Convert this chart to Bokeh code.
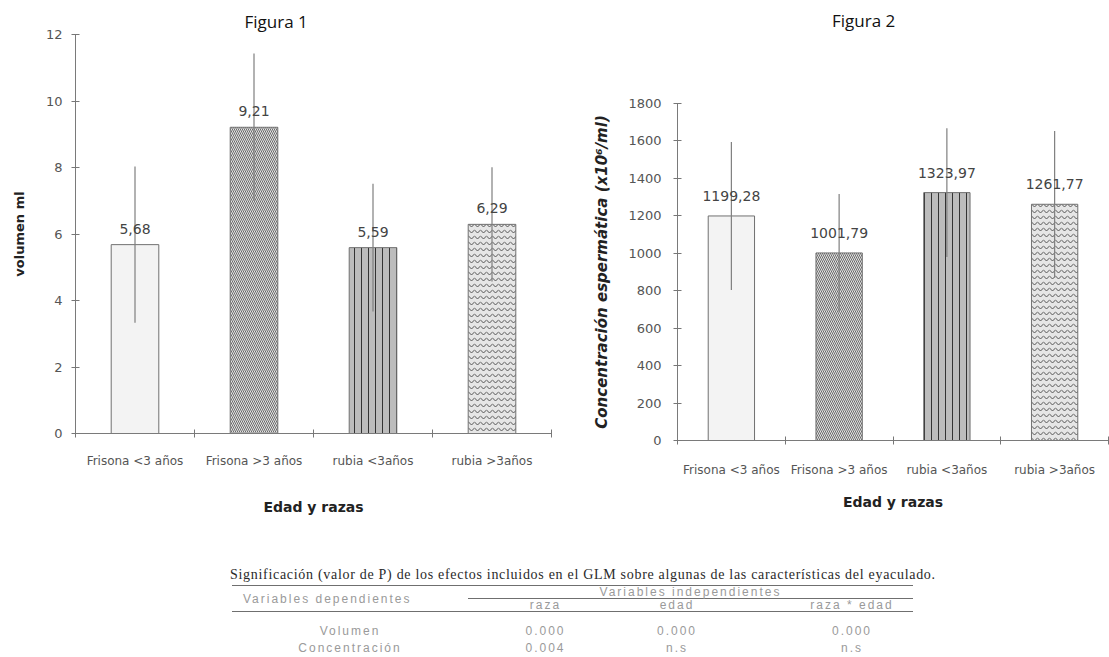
from bokeh.plotting import figure
from bokeh.models import Range1d, FixedTicker, ColumnDataSource, Div
from bokeh.layouts import column, row
from bokeh.embed import file_html
from bokeh.resources import INLINE
from bokeh.core.properties import value

# ---------------- data ----------------
categories = ["Frisona <3 años", "Frisona >3 años", "rubia <3años", "rubia >3años"]

volumen = [5.68, 9.21, 5.59, 6.29]
volumen_err = [2.35, 2.22, 1.92, 1.72]
volumen_labels = ["5,68", "9,21", "5,59", "6,29"]

concentracion = [1199.28, 1001.79, 1323.97, 1261.77]
concentracion_err = [395, 315, 344, 392]
concentracion_labels = ["1199,28", "1001,79", "1323,97", "1261,77"]

y1_ticks = [0, 2, 4, 6, 8, 10, 12]
y2_ticks = [0, 200, 400, 600, 800, 1000, 1200, 1400, 1600, 1800]

table_caption = ("Significación (valor de P) de los efectos incluidos en el GLM sobre "
                 "algunas de las características del eyaculado.")
table_dep_header = "Variables dependientes"
table_ind_header = "Variables independientes"
table_columns = ["raza", "edad", "raza * edad"]
table_rows = ["Volumen", "Concentración"]
table_p_raza = ["0.000", "0.004"]
table_p_edad = ["0.000", "n.s"]
table_p_interaccion = ["0.000", "n.s"]

# ---------------- styles ----------------
bar_fill = ["#f3f3f3", "#e4e4e4", "#bcbcbc", "#e6e6e6"]
bar_hatch = [" ", "left_diagonal_line", "vertical_line", "horizontal_wave"]
bar_hatch_color = ["#999999", "#6a6a6a", "#333333", "#555555"]
bar_hatch_scale = [6, 4, 7, 6]

TICK_FONT = "DejaVu Sans"
GRAY = "#555555"


def make_bar_figure(values, errs, labels, y_max, y_ticks, ylabel, ylabel_style,
                    ylabel_size, title, title_offset, width, height,
                    borders, bar_width, label_offset, tick_size, tick_standoff,
                    ylabel_standoff, xlabel_standoff, xtitle_standoff):
    xs = [i + 0.5 for i in range(len(categories))]
    src = ColumnDataSource(dict(
        x=xs, top=values,
        lower=[v - e for v, e in zip(values, errs)],
        upper=[v + e for v, e in zip(values, errs)],
        label=labels, fill=bar_fill, hatch=bar_hatch,
        hcolor=bar_hatch_color, hscale=bar_hatch_scale,
    ))
    p = figure(width=width, height=height,
               x_range=Range1d(0, len(categories)), y_range=Range1d(0, y_max),
               output_backend="svg", toolbar_location=None,
               min_border_left=borders[0], min_border_right=borders[1],
               min_border_top=borders[2], min_border_bottom=borders[3])
    if title:
        p.title.text = title
        p.title.text_font = "Open Sans"
        p.title.text_font_size = "17px"
        p.title.text_font_style = "normal"
        p.title.text_color = "#111111"
        p.title.align = "left"
        p.title.offset = title_offset
        p.title.standoff = 4
    p.outline_line_color = None
    p.xgrid.visible = False
    p.ygrid.visible = False
    p.background_fill_color = "white"
    p.border_fill_color = "white"

    p.vbar(x="x", top="top", width=bar_width, source=src,
           fill_color="fill", line_color="#707070", line_width=1,
           hatch_pattern="hatch", hatch_color="hcolor", hatch_scale="hscale",
           hatch_weight=1)
    p.segment(x0="x", y0="lower", x1="x", y1="upper", source=src,
              line_color="#7f7f7f", line_width=1.2)
    p.text(x="x", y="top", text="label", source=src,
           text_align="center", text_baseline="middle", y_offset=-label_offset,
           text_font=value(TICK_FONT), text_font_size="14px", text_color="#444444")

    # x axis: labels at centres, tick marks at category boundaries
    xa = p.xaxis[0]
    xa.ticker = FixedTicker(ticks=xs, minor_ticks=list(range(len(categories) + 1)))
    xa.major_label_overrides = dict(zip(xs, categories))
    xa.major_tick_in = 0
    xa.major_tick_out = 0
    xa.minor_tick_in = 4
    xa.minor_tick_out = 4
    xa.minor_tick_line_color = "#777777"
    xa.axis_line_color = "#7a7a7a"
    xa.major_label_standoff = xlabel_standoff
    xa.major_label_text_font = TICK_FONT
    xa.major_label_text_font_size = "12px"
    xa.major_label_text_color = GRAY
    xa.axis_label = "Edad y razas"
    xa.axis_label_standoff = xtitle_standoff
    xa.axis_label_text_font = TICK_FONT
    xa.axis_label_text_font_size = "14px"
    xa.axis_label_text_font_style = "bold"
    xa.axis_label_text_color = "#222222"

    ya = p.yaxis[0]
    ya.ticker = FixedTicker(ticks=y_ticks, minor_ticks=[])
    ya.major_tick_in = 4
    ya.major_tick_out = 4
    ya.major_tick_line_color = "#777777"
    ya.axis_line_color = "#7a7a7a"
    ya.major_label_standoff = tick_standoff
    ya.major_label_text_font = TICK_FONT
    ya.major_label_text_font_size = tick_size
    ya.major_label_text_color = GRAY
    ya.axis_label = ylabel
    ya.axis_label_standoff = ylabel_standoff
    ya.axis_label_text_font = TICK_FONT
    ya.axis_label_text_font_size = ylabel_size
    ya.axis_label_text_font_style = ylabel_style
    ya.axis_label_text_color = "#222222"
    return p


p1 = make_bar_figure(volumen, volumen_err, volumen_labels, 12, y1_ticks,
                     "volumen ml", "bold", "13px", "Figura 1", 169,
                     563, 518, (75, 12, 34, 85), 0.40, 16, "13px", 9, 16, 16, 28)

# Figura 2: frame starts lower, its title is drawn in a header strip above it
p2 = make_bar_figure(concentracion, concentracion_err, concentracion_labels, 1800, y2_ticks,
                     "Concentración espermática (x10⁶/ml)", "bold italic", "15px",
                     None, 0, 546, 484, (114, 1, 69, 78), 0.43, 20, "13px", 12,
                     14, 18, 14)

title2 = Div(
    text=('<div style="position:relative;width:546px;height:34px;background:white;">'
          '<div style="position:absolute;left:269px;top:9px;white-space:nowrap;'
          'font-family:\'Open Sans\';font-size:17px;line-height:24px;color:#111111;">'
          'Figura 2</div></div>'),
    width=546, height=34, margin=(0, 0, 0, 0))

# ---------------- table (HTML) ----------------
cell = "padding:0;line-height:12px;text-align:center;white-space:nowrap;"
line = "1px solid #6f6f6f"
rows_html = ""
for i, name in enumerate(table_rows):
    h = "27px" if i == 0 else "15px"
    pb = 2 if i == 0 else 0
    rows_html += (
        f'<tr style="height:{h}">'
        f'<td style="{cell}vertical-align:bottom;padding-bottom:{pb}px">{name}</td>'
        f'<td style="{cell}vertical-align:bottom;padding-bottom:{pb}px;padding-left:12px">{table_p_raza[i]}</td>'
        f'<td style="{cell}vertical-align:bottom;padding-bottom:{pb}px;padding-right:22px">{table_p_edad[i]}</td>'
        f'<td style="{cell}vertical-align:bottom;padding-bottom:{pb}px;padding-left:26px">{table_p_interaccion[i]}</td>'
        f'</tr>'
    )

html = f"""
<div style="position:relative;width:1109px;height:139px;overflow:hidden;background:white;">
  <div style="position:absolute;left:230px;top:49px;white-space:nowrap;
              font-family:'Liberation Serif';font-size:14px;line-height:16px;
              letter-spacing:0.7px;color:#2a2a2a;">{table_caption}</div>
  <table style="position:absolute;left:232px;top:67px;width:681px;border-collapse:collapse;
                table-layout:fixed;font-family:'Liberation Sans';font-size:12px;
                letter-spacing:2px;color:#9a9a9a;border-top:{line};">
    <colgroup><col style="width:236px"><col style="width:143px"><col style="width:154px"><col style="width:148px"></colgroup>
    <tr style="height:12px">
      <td rowspan="2" style="{cell}text-align:left;padding-left:11px;vertical-align:middle;border-bottom:{line};">{table_dep_header}</td>
      <td colspan="3" style="{cell}border-bottom:{line};">{table_ind_header}</td>
    </tr>
    <tr style="height:13px">
      <td style="{cell}border-bottom:{line};padding-left:12px">{table_columns[0]}</td>
      <td style="{cell}border-bottom:{line};padding-right:22px">{table_columns[1]}</td>
      <td style="{cell}border-bottom:{line};padding-left:26px">{table_columns[2]}</td>
    </tr>
    {rows_html}
  </table>
</div>
"""

table_div = Div(text=html, width=1109, height=139, margin=(0, 0, 0, 0))

layout = column(row(p1, column(title2, p2, spacing=0), spacing=0), table_div, spacing=0)

open("out.html", "w").write(file_html(layout, INLINE))
